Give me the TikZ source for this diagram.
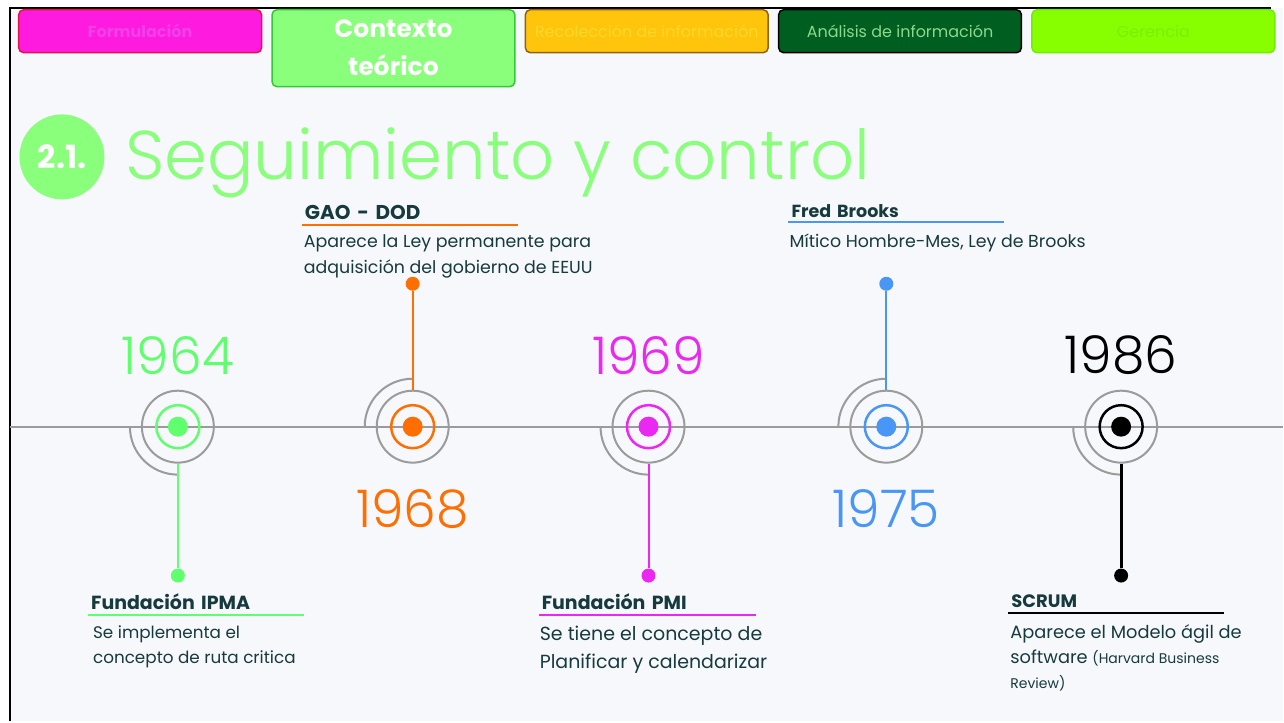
\documentclass[tikz,border=0pt]{standalone}
\usepackage{fontspec}
\setmainfont{Poppins}
\newfontfamily\lightfont{Poppins Light}
\usetikzlibrary{positioning}
\definecolor{pagebg}{RGB}{247,248,252}
\definecolor{inkdark}{RGB}{22,58,62}
\definecolor{ringgray}{RGB}{155,155,155}
\definecolor{titlegreen}{RGB}{138,255,124}
\definecolor{tabpink}{RGB}{255,26,224}
\definecolor{tabpinktext}{RGB}{240,64,234}
\definecolor{tabpinkline}{RGB}{225,20,70}
\definecolor{tabgreenline}{RGB}{52,200,52}
\definecolor{tabyellow}{RGB}{255,196,12}
\definecolor{tabyellowtext}{RGB}{255,216,40}
\definecolor{tabyellowline}{RGB}{140,100,20}
\definecolor{tabdark}{RGB}{0,95,32}
\definecolor{tabdarktext}{RGB}{140,216,140}
\definecolor{tablime}{RGB}{136,255,0}
\definecolor{tablimetext}{RGB}{122,240,0}
\definecolor{tablimeline}{RGB}{110,238,0}
\definecolor{evgreen}{RGB}{96,255,110}
\definecolor{evorange}{RGB}{255,110,0}
\definecolor{evmagenta}{RGB}{234,40,242}
\definecolor{evblue}{RGB}{72,150,246}

\begin{document}
\begin{tikzpicture}[x=1pt,y=-1pt,node distance=8pt]
  \tikzset{tab/.style={rounded corners=5pt,line width=1.5pt,minimum width=243pt,minimum height=43pt,align=center,inner sep=0pt,font=\fontsize{16}{18}\selectfont}}
  \tikzset{ring/.style={circle,draw=ringgray,line width=2pt,minimum size=72pt,inner sep=0pt}}
  \tikzset{core/.style={circle,line width=2.5pt,minimum size=43pt,inner sep=0pt}}
  \tikzset{pin/.style={circle,inner sep=0pt,minimum size=20pt}}
  \tikzset{tip/.style={circle,inner sep=0pt,minimum size=14pt}}
  \tikzset{stem/.style={line width=2pt}}
  \tikzset{halo/.style={ringgray,line width=2pt}}
  \tikzset{year/.style={inner sep=0pt,font=\lightfont\fontsize{52}{52}\selectfont}}
  \tikzset{head/.style={anchor=base west,text=inkdark,text width=210pt,inner xsep=3pt,inner ysep=5pt,text depth=0pt,font=\bfseries\fontsize{19}{20}\selectfont}}
  \tikzset{desc/.style={anchor=north west,align=left,text=inkdark,inner sep=0pt,font=\fontsize{17}{25}\selectfont}}
  % page
  \fill[white] (0,0) rectangle (1284,722);
  \fill[pagebg] (10,8) rectangle (1284,722);
  \coordinate (frameB) at (10,722);
  \coordinate (frameC) at (10,8);
  \coordinate (frameR) at (1272,8);
  \draw[black,line width=2.5pt] (frameB) -- (frameC) -- (frameR);
  % tabs
  \node[tab,anchor=north west,fill=tabpink,draw=tabpinkline,text=tabpinktext,font=\bfseries\fontsize{16}{18}\selectfont] (formul) at (18,9) {Formulación};
  \node[tab,right=9pt of formul.north east,anchor=north west,minimum height=77pt,fill=titlegreen,draw=tabgreenline,text=white,font=\bfseries\fontsize{25}{38}\selectfont] (contexto) {Contexto\\teórico};
  \node[tab,right=9pt of contexto.north east,anchor=north west,fill=tabyellow,draw=tabyellowline,text=tabyellowtext] (recol) {Recolección de información};
  \node[tab,right=9pt of recol.north east,anchor=north west,fill=tabdark,draw=black,text=tabdarktext] (analisis) {Análisis de información};
  \node[tab,right=9pt of analisis.north east,anchor=north west,fill=tablime,draw=tablimeline,text=tablimetext] (gerencia) {Gerencia};
  % title
  \node[circle,fill=titlegreen,minimum size=85pt,inner sep=0pt,text=white,font=\bfseries\fontsize{32}{32}\selectfont] (badge) at (62,157) {2.1.};
  \node[anchor=base west,inner sep=0pt,text=titlegreen,font=\lightfont\fontsize{69}{69}\selectfont] (title) at (125,180) {Seguimiento y control};
  % timeline
  \coordinate (lineL) at (10,427);
  \coordinate (lineR) at (1284,427);
  \draw[ringgray,line width=2pt] (lineL) -- (lineR);
  % 1964
  \coordinate (ev1964) at (178,427);
  \node[ring] (ring1964) at (ev1964) {};
  \node[core,draw=evgreen] (core1964) at (ev1964) {};
  \node[pin,fill=evgreen] (pin1964) at (ev1964) {};
  \draw[halo] (ev1964) ++(-48pt,0pt) arc[start angle=180,end angle=270,radius=48pt];
  \node[year,evgreen,above=15pt of ring1964] (y1964) {1964};
  \node[tip,fill=evgreen] (tip1964) at (178,576) {};
  \draw[stem,evgreen] (ring1964.south) -- (tip1964);
  % 1968
  \coordinate (ev1968) at (413,427);
  \node[ring] (ring1968) at (ev1968) {};
  \node[core,draw=evorange] (core1968) at (ev1968) {};
  \node[pin,fill=evorange] (pin1968) at (ev1968) {};
  \draw[halo] (ev1968) ++(-48pt,0pt) arc[start angle=180,end angle=90,radius=48pt];
  \node[year,evorange,below=26pt of ring1968] (y1968) {1968};
  \node[tip,fill=evorange] (tip1968) at (413,284) {};
  \draw[stem,evorange] (ring1968.north) -- (tip1968);
  % 1969
  \coordinate (ev1969) at (649,427);
  \node[ring] (ring1969) at (ev1969) {};
  \node[core,draw=evmagenta] (core1969) at (ev1969) {};
  \node[pin,fill=evmagenta] (pin1969) at (ev1969) {};
  \draw[halo] (ev1969) ++(-48pt,0pt) arc[start angle=180,end angle=270,radius=48pt];
  \node[year,evmagenta,above=15pt of ring1969] (y1969) {1969};
  \node[tip,fill=evmagenta] (tip1969) at (649,576) {};
  \draw[stem,evmagenta] (ring1969.south) -- (tip1969);
  % 1975
  \coordinate (ev1975) at (887,427);
  \node[ring] (ring1975) at (ev1975) {};
  \node[core,draw=evblue] (core1975) at (ev1975) {};
  \node[pin,fill=evblue] (pin1975) at (ev1975) {};
  \draw[halo] (ev1975) ++(-48pt,0pt) arc[start angle=180,end angle=90,radius=48pt];
  \node[year,evblue,below=26pt of ring1975] (y1975) {1975};
  \node[tip,fill=evblue] (tip1975) at (887,284) {};
  \draw[stem,evblue] (ring1975.north) -- (tip1975);
  % 1986
  \coordinate (ev1986) at (1122,427);
  \node[ring] (ring1986) at (ev1986) {};
  \node[core,draw=black] (core1986) at (ev1986) {};
  \node[pin,fill=black] (pin1986) at (ev1986) {};
  \draw[halo] (ev1986) ++(-48pt,0pt) arc[start angle=180,end angle=270,radius=48pt];
  \node[year,black,above=15pt of ring1986] (y1986) {1986};
  \node[tip,fill=black] (tip1986) at (1122,576) {};
  \draw[stem,black,line width=3pt] (ring1986.south) -- (tip1986);
  % labels
  \node[head,font=\bfseries\fontsize{20}{20}\selectfont] (hGAO) at (302,220) {GAO - DOD};
  \draw[evorange,line width=2pt] (hGAO.south west) -- (hGAO.south east);
  \node[desc,font=\fontsize{17.4}{26}\selectfont,below=9pt of hGAO.south west,anchor=north west,xshift=2pt] (dGAO) {Aparece la Ley permanente para\\adquisición del gobierno de EEUU};
  \node[head,font=\bfseries\fontsize{17.5}{20}\selectfont,text width=209pt,inner ysep=4pt] (hBrooks) at (789,218) {Fred Brooks};
  \draw[evblue,line width=2pt] (hBrooks.south west) -- (hBrooks.south east);
  \node[desc,font=\fontsize{17.4}{26}\selectfont,below=12pt of hBrooks.south west,anchor=north west,xshift=1pt] (dBrooks) {Mítico Hombre-Mes, Ley de Brooks};
  \node[head] (hIPMA) at (88,610) {Fundación IPMA};
  \draw[evgreen,line width=2pt] (hIPMA.south west) -- (hIPMA.south east);
  \node[desc,font=\fontsize{16.8}{25}\selectfont,below=11pt of hIPMA.south west,anchor=north west,xshift=5pt] (dIPMA) {Se implementa el\\concepto de ruta critica};
  \node[head,text width=211pt] (hPMI) at (539,610) {Fundación PMI};
  \draw[evmagenta,line width=2pt] (hPMI.south west) -- (hPMI.south east);
  \node[desc,font=\fontsize{19}{28}\selectfont,below=11pt of hPMI.south west,anchor=north west,xshift=1pt] (dPMI) {Se tiene el concepto de\\Planificar y calendarizar};
  \node[head,font=\bfseries\fontsize{18}{20}\selectfont] (hSCRUM) at (1009,608) {SCRUM};
  \draw[black,line width=2pt] (hSCRUM.south west) -- (hSCRUM.south east);
  \node[desc,font=\fontsize{17.8}{25}\selectfont,below=12pt of hSCRUM.south west,anchor=north west,xshift=2pt] (dSCRUM) {Aparece el Modelo ágil de\\software {\fontsize{14}{25}\selectfont(Harvard Business}\\{\fontsize{14}{25}\selectfont Review)}};
\end{tikzpicture}
\end{document}
